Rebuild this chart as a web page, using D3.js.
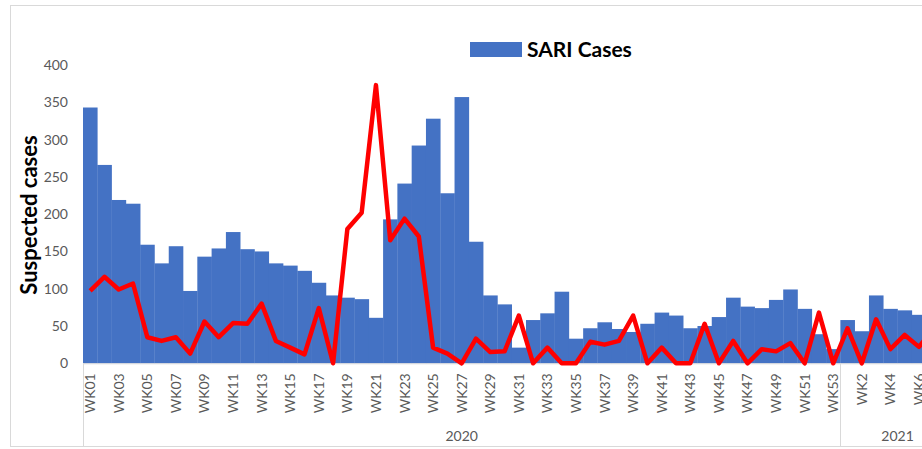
<!DOCTYPE html>
<html>
<head>
<meta charset="utf-8">
<script src="https://cdn.jsdelivr.net/npm/d3@7/dist/d3.min.js"></script>
<style>
  body { margin: 0; background: #fff; }
  svg { display: block; font-family: Lato, "Open Sans", sans-serif; }
</style>
</head>
<body>
<svg></svg>
<script>
var width = 922,
    height = 449;

// 2020 weeks
var weeks2020 = ["WK01", "WK02", "WK03", "WK04", "WK05", "WK06", "WK07", "WK08", "WK09", "WK10",
    "WK11", "WK12", "WK13", "WK14", "WK15", "WK16", "WK17", "WK18", "WK19", "WK20",
    "WK21", "WK22", "WK23", "WK24", "WK25", "WK26", "WK27", "WK28", "WK29", "WK30",
    "WK31", "WK32", "WK33", "WK34", "WK35", "WK36", "WK37", "WK38", "WK39", "WK40",
    "WK41", "WK42", "WK43", "WK44", "WK45", "WK46", "WK47", "WK48", "WK49", "WK50",
    "WK51", "WK52", "WK53"];
var sari2020 = [343, 266, 219, 214, 159, 134, 157, 97, 143, 154,
    176, 153, 150, 134, 131, 124, 108, 91, 88, 86,
    61, 193, 241, 292, 328, 228, 357, 163, 91, 79,
    21, 58, 67, 96, 33, 47, 55, 46, 42, 53,
    68, 64, 47, 50, 62, 88, 76, 74, 85, 99,
    73, 39, 19];
var line2020 = [97, 116, 99, 107, 35, 30, 35, 13, 56, 35,
    54, 53, 80, 30, 21, 12, 74, 0, 180, 202,
    373, 165, 194, 170, 21, 13, 0, 33, 15, 16,
    64, 0, 21, 0, 0, 29, 25, 30, 64, 0,
    21, 0, 0, 53, 0, 30, 0, 19, 16, 27,
    0, 68, 0];

// 2021 weeks (the chart runs past the right edge of the picture)
var weeks2021 = ["WK1", "WK2", "WK3", "WK4", "WK5", "WK6", "WK7", "WK8"];
var sari2021 = [58, 43, 91, 73, 71, 65, 60, 55];
var line2021 = [47, 0, 59, 19, 38, 22, 46, 30];

var years = ["2020", "2021"];
var yTicks = [0, 50, 100, 150, 200, 250, 300, 350, 400];

var rows = weeks2020.map((w, i) => ({ key: "2020-" + w, year: "2020", week: w, bar: sari2020[i], line: line2020[i] }))
    .concat(weeks2021.map((w, i) => ({ key: "2021-" + w, year: "2021", week: w, bar: sari2021[i], line: line2021[i] })));

var margin = { left: 83, top: 65, bottom: 363.3 };
var band = 14.29;

var svg = d3.select("svg")
    .attr("width", width)
    .attr("height", height);

// chart frame
svg.append("rect")
    .attr("x", 10.5).attr("y", 5.5)
    .attr("width", 1000).attr("height", 441)
    .attr("fill", "none")
    .attr("stroke", "#d9d9d9");

var x = d3.scaleBand()
    .domain(rows.map(d => d.key))
    .range([margin.left, margin.left + band * rows.length])
    .padding(0);

var y = d3.scaleLinear()
    .domain([0, 400])
    .range([margin.bottom, margin.top]);

// y tick labels
svg.append("g")
    .selectAll("text")
    .data(yTicks)
    .enter().append("text")
    .attr("x", 68)
    .attr("y", d => y(d) + 5)
    .attr("text-anchor", "end")
    .attr("font-size", 14)
    .attr("fill", "#595959")
    .text(d => d);

svg.append("text")
    .attr("transform", "translate(37,215) rotate(-90)")
    .attr("text-anchor", "middle")
    .attr("font-size", 22)
    .attr("font-weight", "bold")
    .attr("fill", "#000")
    .text("Suspected cases");

// bars
svg.append("g")
    .selectAll("rect")
    .data(rows)
    .enter().append("rect")
    .attr("x", d => x(d.key))
    .attr("y", d => y(d.bar))
    .attr("width", x.bandwidth() + 0.3)
    .attr("height", d => y(0) - y(d.bar))
    .attr("fill", "#4472c4");

// baseline
svg.append("line")
    .attr("x1", margin.left).attr("x2", width)
    .attr("y1", y(0) + 0.5).attr("y2", y(0) + 0.5)
    .attr("stroke", "#d9d9d9");

// red line
var line = d3.line()
    .x(d => x(d.key) + x.bandwidth() / 2)
    .y(d => y(d.line));

svg.append("path")
    .datum(rows)
    .attr("d", line)
    .attr("fill", "none")
    .attr("stroke", "#ff0000")
    .attr("stroke-width", 4.5)
    .attr("stroke-linejoin", "round");

// x tick labels, every other week
svg.append("g")
    .selectAll("text")
    .data(rows.filter((d, i) => i % 2 === 0))
    .enter().append("text")
    .attr("transform", d => "translate(" + (x(d.key) + x.bandwidth() / 2 + 5) + "," + (y(0) + 10) + ") rotate(-90)")
    .attr("text-anchor", "end")
    .attr("font-size", 14)
    .attr("fill", "#595959")
    .text(d => d.week);

// year group separators and labels
var groups = years.map(yr => {
    var r = rows.filter(d => d.year === yr);
    return { year: yr, x0: x(r[0].key), x1: x(r[r.length - 1].key) + x.bandwidth() };
});

svg.append("g")
    .selectAll("line")
    .data(groups)
    .enter().append("line")
    .attr("x1", d => Math.round(d.x0) + 0.5).attr("x2", d => Math.round(d.x0) + 0.5)
    .attr("y1", y(0)).attr("y2", 446)
    .attr("stroke", "#d9d9d9");

svg.append("g")
    .selectAll("text")
    .data(groups)
    .enter().append("text")
    .attr("x", d => (d.x0 + d.x1) / 2)
    .attr("y", 441)
    .attr("text-anchor", "middle")
    .attr("font-size", 14)
    .attr("fill", "#595959")
    .text(d => d.year);

// legend
svg.append("rect")
    .attr("x", 470).attr("y", 42)
    .attr("width", 52).attr("height", 15)
    .attr("fill", "#4472c4");

svg.append("text")
    .attr("x", 527).attr("y", 57)
    .attr("font-size", 21)
    .attr("font-weight", "bold")
    .attr("fill", "#000")
    .text("SARI Cases");
</script>
</body>
</html>
